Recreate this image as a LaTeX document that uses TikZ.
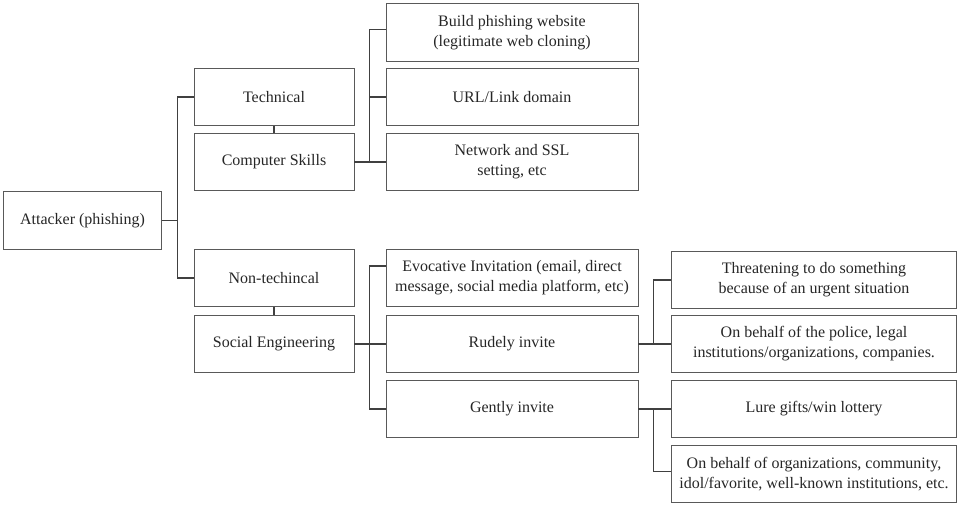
\documentclass[tikz,border=0pt]{standalone}
\usepackage{fontspec}
\setmainfont{Liberation Serif}

\begin{document}
\begin{tikzpicture}[x=0.75pt, y=-0.75pt,
    every node/.style={inner sep=2pt, font=\fontsize{12}{15}\selectfont, text=black!85},
    box/.style={draw=black!65, line width=0.7pt, minimum height=43pt, align=center},
    link/.style={draw=black!75, line width=0.8pt}]

        \useasboundingbox (0,0) rectangle (959,507);

        \node[box, minimum width=119pt] (att) at (82.5,220.5) {Attacker (phishing)};

        % second column
        \foreach \name/\y/\txt in {tech/97/Technical, comp/162/Computer Skills,
                                   nontech/278/Non-techincal, social/344/Social Engineering} {
            \node[box, minimum width=120pt] (\name) at (274,\y) {\txt};
        }

        % third column
        \foreach \name/\y/\txt in {build/32.5/{Build phishing website\\(legitimate web cloning)},
                                   url/97/{URL/Link domain},
                                   net/162/{Network and SSL\\setting, etc},
                                   evoc/278/{Evocative Invitation (email, direct\\message, social media platform, etc)},
                                   rude/344/{Rudely invite},
                                   gent/409/{Gently invite}} {
            \node[box, minimum width=189pt] (\name) at (512,\y) {\txt};
        }

        % fourth column
        \foreach \name/\y/\txt in {threat/280/{Threatening to do something\\because of an urgent situation},
                                   police/344/{On behalf of the police, legal\\institutions/organizations, companies.},
                                   lure/409/{Lure gifts/win lottery},
                                   org/474/{On behalf of organizations, community,\\idol/favorite, well-known institutions, etc.}} {
            \node[box, minimum width=214pt] (\name) at (814,\y) {\txt};
        }

        % attacker branches
        \draw[link] (att.east) -- ++(16,0);
        \draw[link] (tech.west) -- ++(-16,0) |- (nontech.west);
        \draw[link] (tech.south) -- (comp.north);
        \draw[link] (nontech.south) -- (social.north);

        % computer skills branches
        \draw[link] (comp.east) -- (net.west);
        \draw[link] ([yshift=2.5pt]build.west) -- ++(-16,0) |- (net.west);
        \draw[link] (url.west) -- ++(-16,0);

        % social engineering branches
        \draw[link] (social.east) -- (rude.west);
        \draw[link] ([yshift=9pt]evoc.west) -- ++(-16,0) |- (gent.west);

        % rudely / gently invite branches
        \draw[link] (rude.east) -- (police.west);
        \draw[link] (threat.west) -- ++(-17,0) |- (police.west);
        \draw[link] (gent.east) -- (lure.west);
        \draw[link] (lure.west) -- ++(-17,0) |- ([yshift=2pt]org.west);

    \end{tikzpicture}
\end{document}
